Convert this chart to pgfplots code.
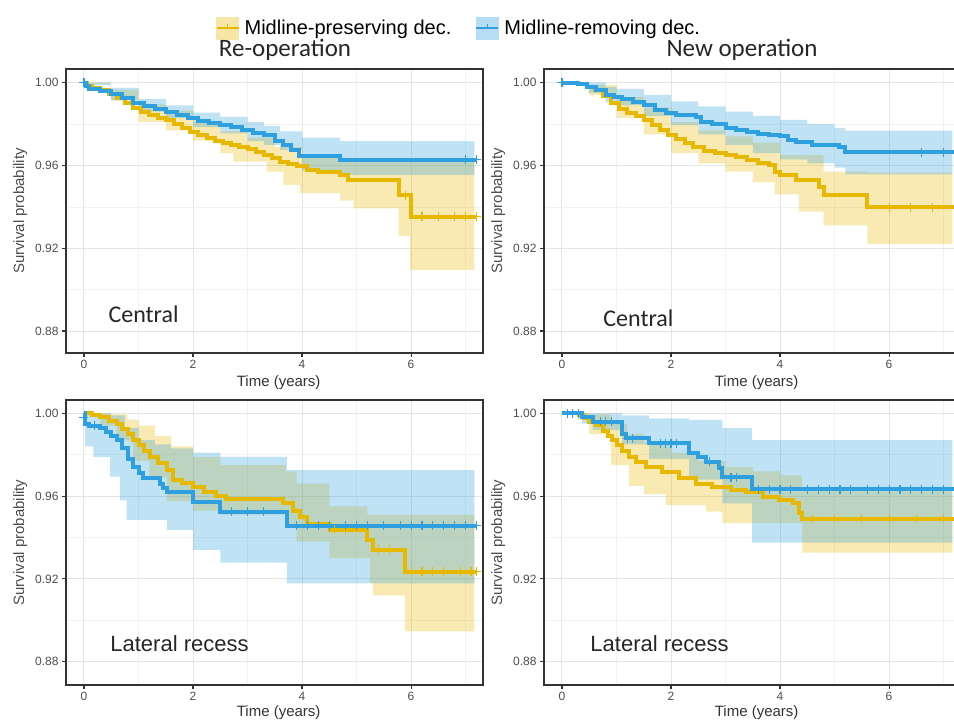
\documentclass[border=0pt]{standalone}
\usepackage{fontspec}
\setmainfont{Liberation Sans}
\newfontfamily\calib{Carlito}
\usepackage{pgfplots}
\pgfplotsset{compat=1.18}
\usepgfplotslibrary{fillbetween}
\definecolor{cyel}{HTML}{E7B800}
\definecolor{cblu}{HTML}{2E9FDF}
\definecolor{frame}{HTML}{333333}
\definecolor{ticklab}{HTML}{4D4D4D}

\pgfplotsset{
  km/.style={
    scale only axis, width=417pt, anchor=south west,
    xmin=-0.33, xmax=7.32,
    xtick={0,2,4,6}, minor xtick={1,3,5,7},
    ytick={0.88,0.92,0.96,1.00}, minor ytick={0.90,0.94,0.98},
    xtick pos=bottom, ytick pos=left,
    yticklabel style={/pgf/number format/fixed, /pgf/number format/fixed zerofill,
                      /pgf/number format/precision=2},
    grid=both,
    major grid style={draw=gray!20, line width=1pt},
    minor grid style={draw=gray!10, line width=0.6pt},
    tick align=outside, major tick length=4pt, minor tick length=0pt,
    major tick style={frame, line width=1.1pt},
    axis line style={frame, line width=1.1pt},
    ticklabel style={font=\fontsize{12}{12}\selectfont, text=ticklab},
    /pgf/number format/assume math mode=true,
    xlabel={Time (years)}, ylabel={Survival probability},
    xlabel style={font=\fontsize{15}{15}\selectfont, text=black!80, anchor=center},
    ylabel style={font=\fontsize{15}{15}\selectfont, text=ticklab, anchor=center,
                  at={(axis description cs:-0.110,0.5)}},
  },
  band/.style={draw=none, const plot, forget plot},
  yline/.style={cyel, const plot, line width=4pt, line join=miter},
  bline/.style={cblu, const plot, line width=4pt, line join=miter},
  ycens/.style={only marks, mark=+, mark size=4.5pt, cyel, line width=1.1pt},
  bcens/.style={only marks, mark=+, mark size=4.5pt, cblu, line width=1.1pt},
}

\begin{document}
\begin{tikzpicture}

% ---------------- Re-operation, central ----------------
\begin{axis}[km, at={(66pt,368pt)}, height=284pt,
    ymin=0.86937, ymax=1.00662,
    xlabel style={at={(axis description cs:0.51,-0.106)}},
    legend style={at={(axis description cs:0.942,1.144)}, anchor=center,
        draw=none, fill=none, font=\fontsize{20}{20}\selectfont,
        /tikz/every odd column/.append style={column sep=3pt},
        /tikz/every even column/.append style={column sep=22pt}},
    legend columns=2, legend cell align=left]
\addlegendimage{legend image code/.code={
    \fill[cyel!35] (0pt,-11pt) rectangle (22pt,11pt);
    \draw[cyel, line width=2pt] (0pt,0pt) -- (22pt,0pt);
    \draw[cyel, line width=1.5pt] (11pt,0pt) -- (11pt,4pt);}}
\addlegendentry{Midline-preserving dec.}
\addlegendimage{legend image code/.code={
    \fill[cblu!35] (0pt,-11pt) rectangle (22pt,11pt);
    \draw[cblu, line width=2pt] (0pt,0pt) -- (22pt,0pt);
    \draw[cblu, line width=1.5pt] (11pt,0pt) -- (11pt,4pt);}}
\addlegendentry{Midline-removing dec.}

\addplot[band, name path=yu1] coordinates {(0,1.0)(0.5,0.9965)(1.0,0.9895)(1.5,0.9865)(2.0,0.981)(2.5,0.9765)(3.0,0.9735)(3.5,0.969)(4.0,0.965)(4.7,0.9625)(7.16,0.9625)};
\addplot[band, name path=yl1] coordinates {(0,0.9995)(0.5,0.9915)(1.0,0.981)(1.5,0.977)(2.0,0.972)(2.5,0.966)(2.74,0.9618)(3.35,0.957)(3.66,0.9506)(3.96,0.9466)(4.70,0.943)(4.94,0.9393)(5.77,0.926)(5.98,0.9095)(7.16,0.9095)};
\addplot[cyel, fill opacity=0.3, forget plot] fill between[of=yu1 and yl1];
\addplot[band, name path=bu1] coordinates {(0,1.0)(0.5,0.9975)(1.0,0.992)(1.5,0.989)(2.0,0.9855)(2.5,0.9835)(3.0,0.981)(3.3,0.979)(3.6,0.9765)(4.0,0.9735)(4.7,0.9718)(7.16,0.9718)};
\addplot[band, name path=bl1] coordinates {(0,0.999)(0.5,0.9915)(1.0,0.986)(1.5,0.983)(2.0,0.9785)(2.5,0.9755)(3.0,0.9718)(3.3,0.970)(3.6,0.9675)(4.0,0.9575)(4.7,0.9555)(7.16,0.9555)};
\addplot[cblu, fill opacity=0.3, forget plot] fill between[of=bu1 and bl1];

\addplot[yline] coordinates {(0,1.000)(0.05,0.9985)(0.15,0.9975)(0.3,0.9965)(0.45,0.9945)(0.6,0.9925)(0.75,0.990)(0.9,0.9878)(1.05,0.986)(1.2,0.9845)(1.35,0.983)(1.5,0.982)(1.65,0.980)(1.8,0.978)(1.95,0.976)(2.1,0.9745)(2.25,0.9735)(2.4,0.972)(2.55,0.971)(2.7,0.970)(2.85,0.969)(3.0,0.968)(3.15,0.9665)(3.3,0.965)(3.45,0.9635)(3.6,0.9615)(3.75,0.9605)(3.9,0.9595)(4.1,0.958)(4.3,0.957)(4.7,0.9555)(4.85,0.953)(5.77,0.9457)(6.0,0.9353)(7.2,0.9353)};
\addplot[bline] coordinates {(0,1.000)(0.03,0.9985)(0.1,0.997)(0.3,0.9962)(0.5,0.9945)(0.7,0.9925)(0.9,0.990)(1.1,0.9885)(1.3,0.9872)(1.5,0.986)(1.7,0.9845)(1.9,0.983)(2.1,0.9815)(2.3,0.9805)(2.5,0.9795)(2.7,0.9785)(2.9,0.977)(3.1,0.9758)(3.3,0.9745)(3.5,0.972)(3.65,0.970)(3.8,0.9675)(3.95,0.9645)(4.7,0.9628)(7.2,0.9628)};
\addplot[ycens] coordinates {(5.9,0.9457)(6.2,0.9353)(6.5,0.9353)(6.8,0.9353)(7.0,0.9353)(7.2,0.9353)};
\addplot[bcens] coordinates {(0,1.0)(7.0,0.9628)(7.2,0.9628)};
\node[anchor=base west, font=\calib\fontsize{24}{24}\selectfont, text=black!85] at (rel axis cs:0.0935,0.106) {Central};
\end{axis}

% ---------------- New operation, central ----------------
\begin{axis}[km, at={(544pt,368pt)}, height=284pt,
    ymin=0.86937, ymax=1.00662,
    xlabel style={at={(axis description cs:0.51,-0.106)}}]
\addplot[band, name path=yu2] coordinates {(0,1.0)(0.5,0.999)(1.0,0.993)(1.5,0.988)(2.0,0.981)(2.5,0.977)(3.0,0.974)(3.5,0.971)(4.0,0.965)(4.8,0.957)(5.6,0.9565)(7.16,0.9565)};
\addplot[band, name path=yl2] coordinates {(0,0.9995)(0.5,0.994)(1.0,0.983)(1.5,0.975)(2.0,0.966)(2.5,0.961)(3.0,0.957)(3.5,0.952)(3.9,0.946)(4.35,0.9377)(4.8,0.931)(5.6,0.922)(7.16,0.922)};
\addplot[cyel, fill opacity=0.3, forget plot] fill between[of=yu2 and yl2];
\addplot[band, name path=bu2] coordinates {(0,1.0)(0.5,1.0)(0.8,0.998)(1.0,0.997)(1.5,0.994)(2.0,0.991)(2.5,0.9885)(3.0,0.986)(3.5,0.984)(4.0,0.982)(4.5,0.980)(5.0,0.978)(5.2,0.9768)(7.16,0.9768)};
\addplot[band, name path=bl2] coordinates {(0,0.999)(0.5,0.995)(0.8,0.9905)(1.0,0.989)(1.5,0.984)(2.0,0.9795)(2.5,0.975)(3.0,0.970)(3.5,0.966)(4.0,0.963)(4.5,0.961)(5.0,0.959)(5.2,0.9557)(7.16,0.9557)};
\addplot[cblu, fill opacity=0.3, forget plot] fill between[of=bu2 and bl2];

\addplot[yline] coordinates {(0,1.0)(0.3,0.9995)(0.45,0.998)(0.6,0.9965)(0.75,0.9935)(0.9,0.990)(1.05,0.9875)(1.2,0.9855)(1.35,0.9838)(1.5,0.982)(1.65,0.9795)(1.8,0.977)(1.95,0.9745)(2.1,0.9728)(2.25,0.971)(2.4,0.969)(2.6,0.9672)(2.8,0.9662)(3.0,0.9652)(3.2,0.964)(3.4,0.9625)(3.6,0.9612)(3.8,0.960)(3.9,0.957)(4.0,0.9554)(4.3,0.953)(4.72,0.9498)(4.81,0.9457)(5.6,0.9398)(7.2,0.9398)};
\addplot[bline] coordinates {(0,1.0)(0.3,0.9995)(0.45,0.998)(0.62,0.9965)(0.8,0.994)(0.95,0.993)(1.1,0.992)(1.3,0.9905)(1.5,0.989)(1.7,0.987)(1.9,0.9855)(2.1,0.9845)(2.45,0.9836)(2.55,0.981)(2.76,0.980)(3.0,0.978)(3.2,0.977)(3.4,0.976)(3.6,0.975)(3.8,0.9745)(4.0,0.974)(4.15,0.9725)(4.29,0.9715)(4.59,0.970)(5.08,0.969)(5.2,0.9665)(7.2,0.9665)};
\addplot[ycens] coordinates {(6.0,0.9398)(6.4,0.9398)(6.8,0.9398)(7.2,0.9398)};
\addplot[bcens] coordinates {(0,1.0)(6.6,0.9665)(7.0,0.9665)(7.2,0.9665)};
\node[anchor=base west, font=\calib\fontsize{24}{24}\selectfont, text=black!85] at (rel axis cs:0.134,0.092) {Central};
\end{axis}

% ---------------- Re-operation, lateral recess ----------------
\begin{axis}[km, at={(66pt,36pt)}, height=285pt,
    ymin=0.86875, ymax=1.00643,
    xlabel style={at={(axis description cs:0.51,-0.098)}}]
\addplot[band, name path=yu3] coordinates {(0,1.0)(0.5,0.9995)(0.8,0.997)(1.0,0.994)(1.3,0.989)(1.6,0.984)(2.0,0.979)(2.5,0.975)(3.7,0.972)(3.9,0.966)(4.5,0.955)(5.2,0.951)(7.16,0.951)};
\addplot[band, name path=yl3] coordinates {(0,0.999)(0.3,0.994)(0.6,0.987)(0.9,0.977)(1.2,0.969)(1.52,0.9575)(2.0,0.953)(2.5,0.951)(3.7,0.945)(3.9,0.938)(4.5,0.930)(5.25,0.918)(5.3,0.912)(5.89,0.8946)(7.16,0.8946)};
\addplot[cyel, fill opacity=0.3, forget plot] fill between[of=yu3 and yl3];
\addplot[band, name path=bu3] coordinates {(0,1.0)(0.5,0.999)(0.75,0.993)(1.0,0.987)(1.3,0.985)(1.6,0.983)(2.0,0.981)(2.5,0.979)(3.72,0.9726)(7.16,0.9726)};
\addplot[band, name path=bl3] coordinates {(0,0.999)(0.02,0.984)(0.17,0.979)(0.48,0.9694)(0.66,0.958)(0.78,0.9485)(1.52,0.9437)(2.0,0.934)(2.5,0.9279)(3.72,0.9179)(7.16,0.9179)};
\addplot[cblu, fill opacity=0.3, forget plot] fill between[of=bu3 and bl3];

\addplot[yline] coordinates {(0,1.0)(0.15,0.999)(0.3,0.998)(0.45,0.9965)(0.6,0.995)(0.7,0.9925)(0.8,0.990)(0.9,0.987)(1.0,0.9845)(1.1,0.982)(1.21,0.979)(1.35,0.976)(1.52,0.9726)(1.64,0.968)(1.8,0.9665)(2.0,0.9646)(2.2,0.962)(2.43,0.960)(2.6,0.9585)(3.65,0.9565)(3.84,0.953)(3.96,0.950)(4.1,0.9465)(4.51,0.9437)(5.19,0.9388)(5.3,0.934)(5.89,0.9235)(7.2,0.9235)};
\addplot[bline] coordinates {(0,1.0)(0.02,0.995)(0.1,0.994)(0.29,0.9928)(0.4,0.991)(0.5,0.989)(0.6,0.987)(0.7,0.983)(0.8,0.978)(0.9,0.974)(1.0,0.971)(1.09,0.9686)(1.39,0.966)(1.45,0.964)(1.52,0.962)(2.0,0.9573)(2.5,0.9525)(3.72,0.9456)(7.2,0.9456)};
\addplot[ycens] coordinates {(4.6,0.9437)(4.8,0.9437)(5.4,0.934)(5.6,0.934)(6.0,0.9235)(6.2,0.9235)(6.4,0.9235)(6.6,0.9235)(6.9,0.9235)(7.1,0.9235)(7.2,0.9235)};
\addplot[bcens] coordinates {(0,0.998)(0.2,0.994)(2.7,0.9525)(3.0,0.9525)(3.3,0.9525)(3.9,0.9456)(4.1,0.9456)(4.3,0.9456)(4.5,0.9456)(4.8,0.9456)(5.0,0.9456)(5.2,0.9456)(5.5,0.9456)(5.8,0.9456)(6.0,0.9456)(6.2,0.9456)(6.4,0.9456)(6.6,0.9456)(6.8,0.9456)(7.0,0.9456)(7.2,0.9456)};
\node[anchor=base west, font=\fontsize{22}{22}\selectfont, text=black!85] at (rel axis cs:0.098,0.119) {Lateral recess};
\end{axis}

% ---------------- New operation, lateral recess ----------------
\begin{axis}[km, at={(544pt,36pt)}, height=285pt,
    ymin=0.86875, ymax=1.00643,
    xlabel style={at={(axis description cs:0.51,-0.098)}}]
\addplot[band, name path=yu4] coordinates {(0,1.0)(0.5,0.9995)(0.9,0.995)(1.2,0.990)(1.5,0.986)(2.0,0.981)(2.5,0.977)(3.0,0.974)(3.5,0.972)(4.0,0.970)(4.4,0.9635)(7.16,0.9635)};
\addplot[band, name path=yl4] coordinates {(0,0.9995)(0.3,0.997)(0.5,0.990)(0.9,0.975)(1.23,0.965)(1.5,0.961)(1.9,0.9557)(2.64,0.9525)(2.94,0.947)(4.41,0.9327)(7.16,0.9327)};
\addplot[cyel, fill opacity=0.3, forget plot] fill between[of=yu4 and yl4];
\addplot[band, name path=bu4] coordinates {(0,1.0)(0.5,1.0)(1.1,0.999)(1.6,0.9975)(2.33,0.9968)(2.94,0.9928)(3.49,0.9871)(7.16,0.9871)};
\addplot[band, name path=bl4] coordinates {(0,0.9995)(0.37,0.995)(0.56,0.992)(1.1,0.985)(1.6,0.978)(2.33,0.968)(2.94,0.9565)(3.49,0.9375)(7.16,0.9375)};
\addplot[cblu, fill opacity=0.3, forget plot] fill between[of=bu4 and bl4];

\addplot[yline] coordinates {(0,1.0)(0.31,0.9992)(0.4,0.9975)(0.5,0.996)(0.62,0.9944)(0.75,0.9915)(0.85,0.989)(0.92,0.987)(1.0,0.9845)(1.1,0.982)(1.23,0.979)(1.35,0.9765)(1.54,0.974)(1.84,0.9718)(2.15,0.9686)(2.45,0.966)(2.76,0.9646)(3.1,0.963)(3.37,0.962)(3.68,0.9598)(3.98,0.958)(4.23,0.9565)(4.35,0.9517)(4.41,0.949)(7.2,0.949)};
\addplot[bline] coordinates {(0,1.0)(0.37,0.9984)(0.56,0.996)(1.1,0.990)(1.17,0.988)(1.6,0.9855)(2.33,0.981)(2.5,0.979)(2.64,0.9767)(2.88,0.9734)(2.94,0.969)(3.49,0.9633)(7.2,0.9633)};
\addplot[ycens] coordinates {(4.6,0.949)(5.0,0.949)(5.5,0.949)(6.0,0.949)(6.5,0.949)(7.0,0.949)(7.2,0.949)};
\addplot[bcens] coordinates {(0.1,1.0)(0.2,1.0)(0.3,1.0)(0.7,0.996)(0.8,0.996)(0.9,0.996)(1.2,0.988)(1.3,0.988)(1.8,0.9855)(1.9,0.9855)(2.0,0.9855)(2.1,0.9855)(2.7,0.9767)(3.1,0.969)(3.2,0.969)(3.6,0.9633)(3.8,0.9633)(4.0,0.9633)(4.2,0.9633)(4.5,0.9633)(4.7,0.9633)(4.9,0.9633)(5.1,0.9633)(5.3,0.9633)(5.6,0.9633)(5.8,0.9633)(6.0,0.9633)(6.2,0.9633)(6.4,0.9633)(6.6,0.9633)(6.8,0.9633)(7.0,0.9633)(7.2,0.9633)};
\node[anchor=base west, font=\fontsize{22}{22}\selectfont, text=black!85] at (rel axis cs:0.103,0.119) {Lateral recess};
\end{axis}

% column titles
\node[anchor=base, font=\calib\fontsize{25}{25}\selectfont, text=black!85] at (285pt,664pt) {Re-operation};
\node[anchor=base, font=\calib\fontsize{25}{25}\selectfont, text=black!85] at (742pt,664pt) {New operation};

\pgfresetboundingbox
\useasboundingbox (0pt,0pt) rectangle (954pt,721pt);
\end{tikzpicture}
\end{document}
